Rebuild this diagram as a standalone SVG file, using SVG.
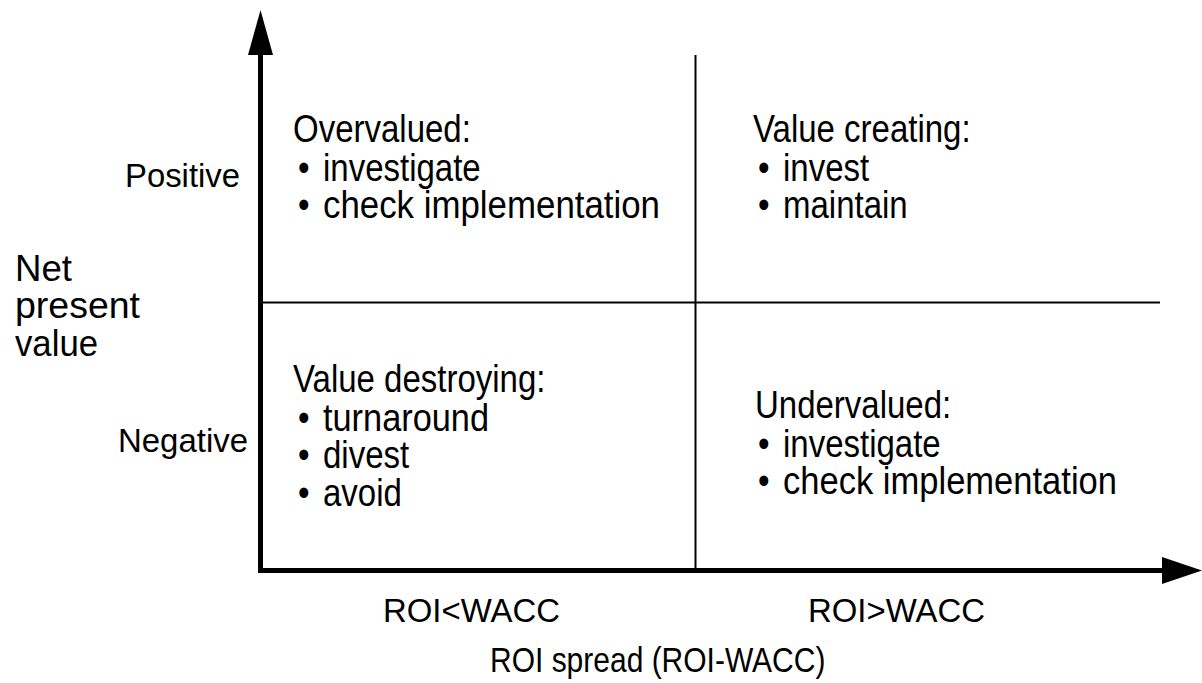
<svg xmlns="http://www.w3.org/2000/svg" width="1202" height="683" viewBox="0 0 1202 683">
<style>
text{font-family:"Liberation Sans",Arial,Helvetica,sans-serif;fill:#000}
.q{font-size:33px}
.a{font-size:33px}
.n{font-size:36px}
.s{font-size:30px}
.ax{stroke:#000;stroke-width:5;fill:none}
.grid{stroke:#000;stroke-width:2;fill:none}
</style>
<rect width="1202" height="683" fill="#fff"/>
<g id="connectors">
<line class="grid" x1="695.5" y1="55" x2="695.5" y2="570"/>
<line class="grid" x1="261" y1="302.5" x2="1160" y2="302.5"/>
<polyline class="ax" points="260.5,52 260.5,570.5 1165,570.5"/>
<polygon points="260.5,10 248,55 273,55" fill="#000"/>
<polygon points="1202,570.5 1162,557 1162,584" fill="#000"/>
</g>
<g id="overvalued">
<text class="q" transform="matrix(1 0 0 1.16 293 142)">Overvalued:</text>
<text class="q" transform="matrix(1 0 0 1.16 298 181)">•</text>
<text class="q" transform="matrix(1 0 0 1.16 323 181)">investigate</text>
<text class="q" transform="matrix(1 0 0 1.16 298 218)">•</text>
<text class="q" transform="matrix(1 0 0 1.16 323 218)" textLength="337" lengthAdjust="spacingAndGlyphs">check implementation</text>
</g>
<g id="value-creating">
<text class="q" transform="matrix(1 0 0 1.16 753 142)">Value creating:</text>
<text class="q" transform="matrix(1 0 0 1.16 758 181)">•</text>
<text class="q" transform="matrix(1 0 0 1.16 783 181)">invest</text>
<text class="q" transform="matrix(1 0 0 1.16 758 218)">•</text>
<text class="q" transform="matrix(1 0 0 1.16 783 218)">maintain</text>
</g>
<g id="value-destroying">
<text class="q" transform="matrix(1 0 0 1.16 293 392)">Value destroying:</text>
<text class="q" transform="matrix(1 0 0 1.16 298 431)">•</text>
<text class="q" transform="matrix(1 0 0 1.16 323 431)" textLength="166" lengthAdjust="spacingAndGlyphs">turnaround</text>
<text class="q" transform="matrix(1 0 0 1.16 298 468)">•</text>
<text class="q" transform="matrix(1 0 0 1.16 323 468)">divest</text>
<text class="q" transform="matrix(1 0 0 1.16 298 506)">•</text>
<text class="q" transform="matrix(1 0 0 1.16 323 506)">avoid</text>
</g>
<g id="undervalued">
<text class="q" transform="matrix(1 0 0 1.16 755 418)">Undervalued:</text>
<text class="q" transform="matrix(1 0 0 1.16 758 457)">•</text>
<text class="q" transform="matrix(1 0 0 1.16 783 457)">investigate</text>
<text class="q" transform="matrix(1 0 0 1.16 758 494)">•</text>
<text class="q" transform="matrix(1 0 0 1.16 783 494)" textLength="334" lengthAdjust="spacingAndGlyphs">check implementation</text>
</g>
<g id="y-axis-labels">
<text class="a" x="125" y="187" textLength="115" lengthAdjust="spacingAndGlyphs">Positive</text>
<text class="a" x="118" y="452" textLength="130" lengthAdjust="spacingAndGlyphs">Negative</text>
<text class="n" x="15" y="281" textLength="57" lengthAdjust="spacingAndGlyphs">Net</text>
<text class="n" x="15" y="318" textLength="125" lengthAdjust="spacingAndGlyphs">present</text>
<text class="n" x="15" y="356" textLength="83" lengthAdjust="spacingAndGlyphs">value</text>
</g>
<g id="x-axis-labels">
<text class="a" x="383" y="622" textLength="177" lengthAdjust="spacingAndGlyphs">ROI&lt;WACC</text>
<text class="a" x="808" y="622" textLength="177" lengthAdjust="spacingAndGlyphs">ROI&gt;WACC</text>
<text class="s" transform="matrix(1 0 0 1.16 490 672)">ROI spread (ROI-WACC)</text>
</g>
</svg>
